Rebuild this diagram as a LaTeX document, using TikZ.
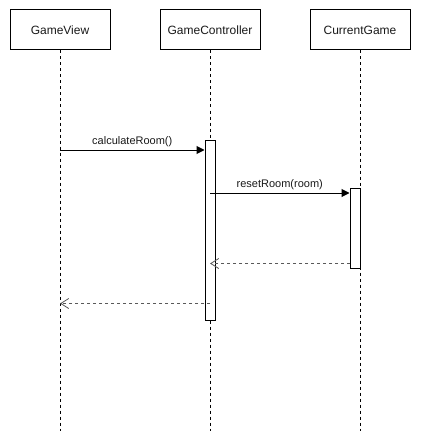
\documentclass[tikz,border=0pt]{standalone}
\usepackage{fontspec}
\setmainfont{Liberation Sans}
\usetikzlibrary{arrows.meta}
\begin{document}
\begin{tikzpicture}[x=1pt,y=-1pt,
  obj/.style={draw, line width=1pt, minimum width=100pt, minimum height=40pt, font=\fontsize{12}{14}\selectfont, inner sep=0pt, text=black!90},
  act/.style={draw, fill=white, line width=1pt, minimum width=10pt, inner sep=0pt},
  life/.style={line width=0.9pt, dash pattern=on 3pt off 3pt},
  msg/.style={line width=1pt, -{Triangle[length=8pt,width=8pt]}},
  ret/.style={line width=1pt, draw=black!65, dash pattern=on 3pt off 3pt, -{Straight Barb[length=8pt,width=10pt,line width=0.8pt]}},
  lbl/.style={font=\fontsize{11}{13}\selectfont, text=black!90, above, inner sep=2.5pt}
]
\useasboundingbox (0,0) rectangle (421,441);
% participants
\node[obj] (gv) at (60,30) {GameView};
\node[obj] (gc) at (210,30) {GameController};
\node[obj] (cg) at (360,30) {CurrentGame};
% lifeline ends
\coordinate (gvE) at (60,431);
\coordinate (gcE) at (210,431);
\coordinate (cgE) at (360,431);
\draw[life] (gv.south) -- (gvE);
\draw[life] (gc.south) -- (gcE);
\draw[life] (cg.south) -- (cgE);
% activations
\node[act, minimum height=180pt] (a1) at (210,230) {};
\node[act, minimum height=80pt] (a2) at (355,228.5) {};
% message points
\coordinate (m1s) at (60,150);
\coordinate (m2s) at (210,193);
\coordinate (r1s) at (350,263.5);
\coordinate (r1e) at (210,263.5);
\coordinate (r2s) at (210,303.5);
\coordinate (r2e) at (60,303.5);
% messages
\draw[msg] (m1s) -- (a1.west |- m1s) node[lbl, midway] {calculateRoom()};
\draw[msg] (m2s) -- (a2.west |- m2s) node[lbl, midway] {resetRoom(room)};
\draw[ret] (r1s) -- (r1e);
\draw[ret] (r2s) -- (r2e);
\end{tikzpicture}
\end{document}
